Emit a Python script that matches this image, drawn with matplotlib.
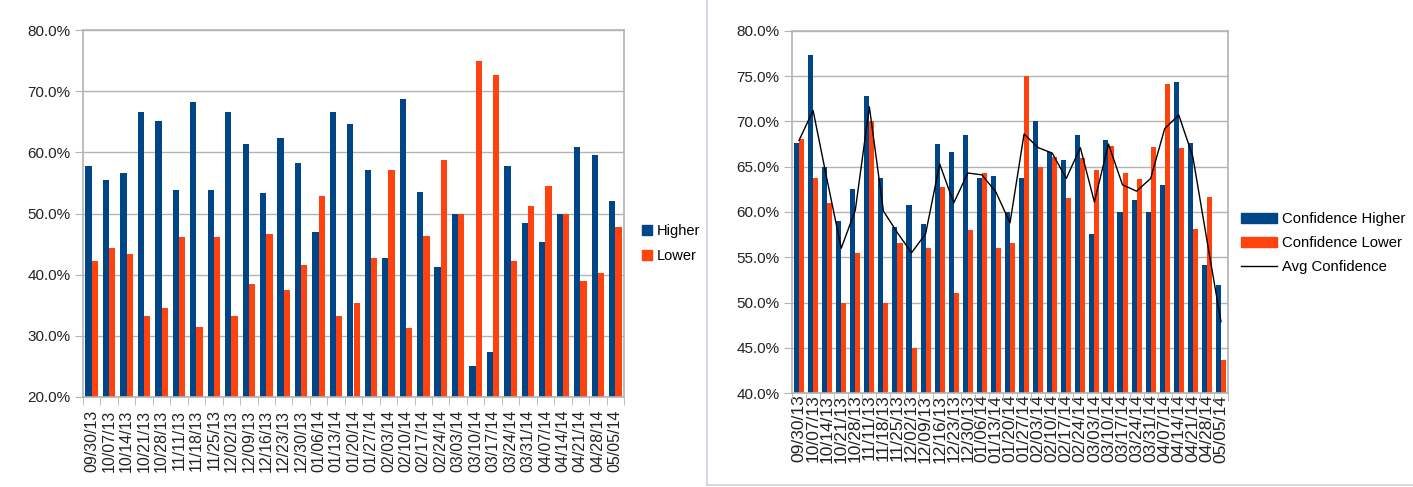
import numpy as np
import matplotlib.pyplot as plt
from matplotlib.lines import Line2D
from matplotlib.patches import Patch

plt.rcParams['font.family'] = ['Liberation Sans', 'DejaVu Sans']

weeks = ["09/30/13", "10/07/13", "10/14/13", "10/21/13", "10/28/13", "11/11/13",
         "11/18/13", "11/25/13", "12/02/13", "12/09/13", "12/16/13", "12/23/13",
         "12/30/13", "01/06/14", "01/13/14", "01/20/14", "01/27/14", "02/03/14",
         "02/10/14", "02/17/14", "02/24/14", "03/03/14", "03/10/14", "03/17/14",
         "03/24/14", "03/31/14", "04/07/14", "04/14/14", "04/21/14", "04/28/14",
         "05/05/14"]

# left chart: share of picks higher / lower
higher = [57.7, 55.5, 56.6, 66.6, 65.2, 53.8, 68.3, 53.8, 66.6, 61.4, 53.3, 62.4,
          58.2, 47.0, 66.6, 64.6, 57.1, 42.8, 68.7, 53.5, 41.2, 50.0, 25.0, 27.3,
          57.7, 48.5, 45.4, 50.0, 60.8, 59.5, 52.0]
lower = [42.2, 44.3, 43.3, 33.2, 34.5, 46.1, 31.5, 46.1, 33.2, 38.5, 46.6, 37.5,
         41.6, 52.9, 33.2, 35.3, 42.8, 57.1, 31.2, 46.4, 58.8, 50.0, 75.0, 72.6,
         42.2, 51.3, 54.5, 50.0, 39.0, 40.3, 47.8]

# right chart: confidence
conf_higher = [67.6, 77.3, 65.0, 59.0, 62.5, 72.8, 63.8, 58.3, 60.8, 58.7, 67.5, 66.6,
               68.5, 63.7, 64.0, 60.0, 63.7, 70.0, 66.6, 65.7, 68.5, 57.6, 67.9, 60.0,
               61.3, 60.0, 63.0, 74.3, 67.6, 54.2, 51.9]
conf_lower = [68.0, 63.7, 61.0, 50.0, 55.5, 70.0, 50.0, 56.6, 45.0, 56.0, 62.8, 51.1,
              58.0, 64.3, 56.0, 56.6, 75.0, 65.0, 66.1, 61.5, 66.0, 64.6, 67.3, 64.3,
              63.6, 67.2, 74.1, 67.1, 58.1, 61.6, 43.7]
avg_conf = [67.9, 71.2, 63.5, 56.0, 60.2, 71.6, 60.1, 57.7, 55.5, 57.6, 65.3, 61.0,
            64.3, 64.1, 62.2, 58.8, 68.6, 67.1, 66.5, 63.7, 67.1, 61.1, 67.5, 63.0,
            62.3, 63.7, 69.2, 70.7, 66.1, 56.9, 47.9]

BLUE = "#004586"
ORANGE = "#ff420e"
GRID = "#b3b3b3"

W, H = 1413, 487
fig = plt.figure(figsize=(W / 100, H / 100), dpi=100)


def px_axes(x0, y0, x1, y1):
    return fig.add_axes([x0 / W, 1 - y1 / H, (x1 - x0) / W, (y1 - y0) / H])


def style(ax, ymin, ymax, step, xfs, xpad):
    x = np.arange(len(weeks))
    ax.set_xlim(-0.5, len(weeks) - 0.5)
    ax.set_ylim(ymin, ymax)
    yt = np.arange(ymin, ymax + 0.01, step)
    ax.set_yticks(yt)
    ax.set_yticklabels([f"{v:.1f}%" for v in yt], fontsize=11, color="#222222")
    ax.yaxis.grid(True, color=GRID, linewidth=1)
    ax.set_axisbelow(True)
    ax.set_xticks(x)
    ax.set_xticklabels(weeks, rotation=90, fontsize=xfs, color="#222222")
    ax.set_xticks(np.arange(len(weeks) + 1) - 0.5, minor=True)
    ax.tick_params(axis="x", which="major", length=0, pad=xpad)
    ax.tick_params(axis="x", which="minor", length=6, color=GRID)
    ax.tick_params(axis="y", length=6, color=GRID, pad=3)
    for s in ax.spines.values():
        s.set_color(GRID)
        s.set_linewidth(1.2)


w = 0.36
x = np.arange(len(weeks))

# left chart
ax1 = px_axes(83, 30, 624, 397)
ax1.bar(x - w / 2, [v - 20 for v in higher], w, bottom=20, color=BLUE)
ax1.bar(x + w / 2, [v - 20 for v in lower], w, bottom=20, color=ORANGE)
style(ax1, 20, 80, 10, 11.5, 9)
fig.legend(handles=[Patch(color=BLUE, label="Higher"), Patch(color=ORANGE, label="Lower")],
           loc="center left", bbox_to_anchor=(636 / W, 1 - 243.5 / H), frameon=False,
           fontsize=10.5, handlelength=0.7, handleheight=0.7, handletextpad=0.3,
           labelspacing=0.77, borderaxespad=0)

# right chart
ax2 = px_axes(792, 30.7, 1228, 393.3)
ax2.bar(x - w / 2, [v - 40 for v in conf_higher], w, bottom=40, color=BLUE)
ax2.bar(x + w / 2, [v - 40 for v in conf_lower], w, bottom=40, color=ORANGE)
ax2.plot(x, avg_conf, color="black", linewidth=1)
style(ax2, 40, 80, 5, 12.5, 1)
fig.legend(handles=[Patch(color=BLUE, label="Confidence Higher"),
                    Patch(color=ORANGE, label="Confidence Lower"),
                    Line2D([], [], color="black", linewidth=1, label="Avg Confidence")],
           loc="center left", bbox_to_anchor=(1235 / W, 1 - 243 / H), frameon=False,
           fontsize=10.7, handlelength=2.4, handleheight=0.7, handletextpad=0.33,
           labelspacing=0.67, borderaxespad=0)

# frame around the right chart
fig.add_artist(Line2D([707 / W, 707 / W], [1 - 485 / H, 1], color="#c9d2e3", linewidth=1.2))
fig.add_artist(Line2D([707 / W, 1], [1 - 485 / H, 1 - 485 / H], color="#c9d2e3", linewidth=1.2))

fig.savefig("out.png", dpi=100)
